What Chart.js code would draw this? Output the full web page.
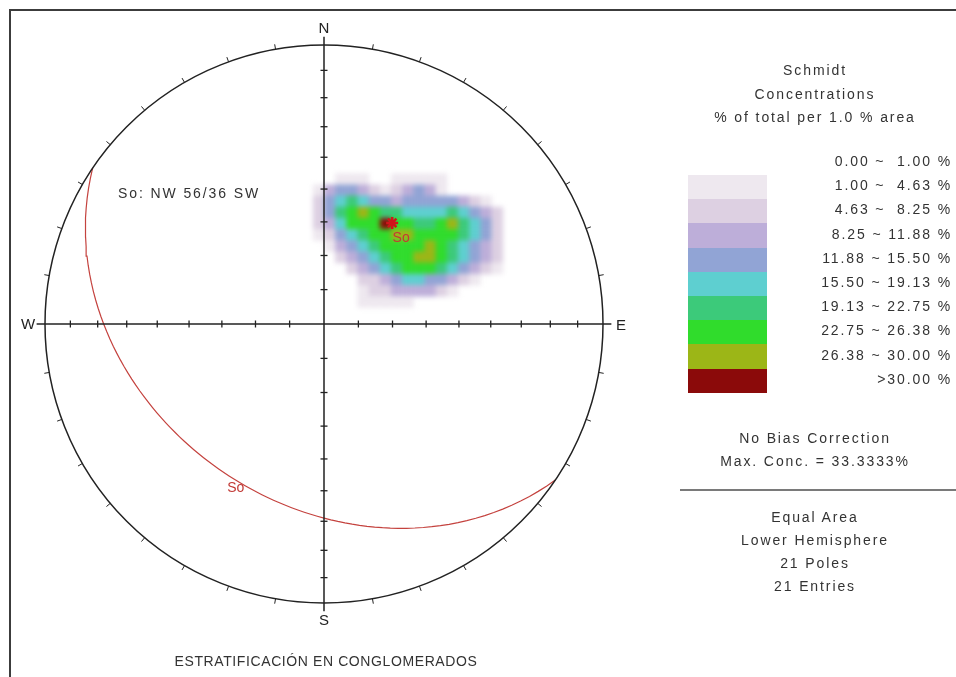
<!DOCTYPE html>
<html>
<head>
<meta charset="utf-8">
<script src="https://cdn.jsdelivr.net/npm/chart.js@4.4.1/dist/chart.umd.min.js"></script>
<style>
    body { margin: 0; background: #fff; overflow: hidden; }
    #wrap { position: relative; width: 956px; height: 677px; overflow: hidden;
            font-family: "Liberation Sans", Arial, sans-serif; color: #333; }
    #frame { position: absolute; left: 9px; top: 9px; width: 1000px; height: 1000px; border: 2px solid #3c3c3c; }
    #net { position: absolute; left: 0; top: 0; }
    .t { position: absolute; font-size: 14px; line-height: 16px; letter-spacing: 1.9px; white-space: pre; }
    .c { left: 680px; width: 270px; text-align: center; }
    .r { right: 4px; text-align: right; }
    .sw { position: absolute; left: 688px; width: 79px; }
    #sep { position: absolute; left: 680px; top: 489px; width: 276px; height: 2px; background: #7a7a7a; }
</style>
</head>
<body>
<div id="wrap">
    <div id="frame"></div>
    <canvas id="net" width="956" height="677"></canvas>
    <div id="sep"></div>
</div>
<script>
// Panel texts
const panelTitle = ['Schmidt', 'Concentrations', '% of total per 1.0 % area'];
const classLabels = ['0.00 ~  1.00 %', '1.00 ~  4.63 %', '4.63 ~  8.25 %', '8.25 ~ 11.88 %', '11.88 ~ 15.50 %',
    '15.50 ~ 19.13 %', '19.13 ~ 22.75 %', '22.75 ~ 26.38 %', '26.38 ~ 30.00 %', '>30.00 %'];
// first class (0 - 1 %) is left blank
const classColors = ['#ffffff', '#eee8ef', '#ddd0e2', '#bdaed9', '#91a4d5', '#5ecfd0', '#3cca7a', '#30dc2c', '#9cb617', '#8b0a0a'];
const statsTop = ['No Bias Correction', 'Max. Conc. = 33.3333%'];
const statsBottom = ['Equal Area', 'Lower Hemisphere', '21 Poles', '21 Entries'];
const planeText = 'So: NW 56/36 SW';
const chartTitle = 'ESTRATIFICACIÓN EN CONGLOMERADOS';

// Plane So (dip direction / dip, degrees)
const planeDipDir = 214;
const planeDip = 36;

// Dips marked along the N-S and W-E diameters
const axisTickDips = [80, 70, 60, 50, 40, 30, 20, 10];

// Density grid (equal-area coords, net radius = 1), one digit = class index
const gridX0 = -0.04;
const gridY0 = 0.58;
const gridStep = 0.04;
const densityRows = [
    '000000000000000000',
    '001110011111000000',
    '134432123431000000',
    '245654434444432100',
    '246787665555654320',
    '235777977667865420',
    '124567788777765420',
    '013456777787654320',
    '002345677887654320',
    '000234567776543210',
    '000022345544321000',
    '000012233332100000',
    '000011111000000000',
    '000000000000000000'
];

const rad = d => d * Math.PI / 180;
// Equal-area projection of a line (trend, plunge)
const project = (trend, plunge) => {
    const r = Math.SQRT2 * Math.sin(rad(90 - plunge) / 2);
    return { x: r * Math.sin(rad(trend)), y: r * Math.cos(rad(trend)) };
};

// Great circle of So: lines lying in the plane
const greatCircle = [];
for (let t = -90; t <= 90; t += 2) {
    const p = Math.atan(Math.tan(rad(planeDip)) * Math.cos(rad(t))) * 180 / Math.PI;
    greatCircle.push(project(planeDipDir + t, p));
}
const pole = project(planeDipDir - 180, 90 - planeDip);

const ewTicks = [];
const nsTicks = [];
axisTickDips.forEach(d => {
    const r = project(0, d).y;
    ewTicks.push({ x: r, y: 0 }, { x: -r, y: 0 });
    nsTicks.push({ x: 0, y: r }, { x: 0, y: -r });
});

// Side panel
const wrap = document.getElementById('wrap');
const addText = (txt, cls, y, extra) => {
    const d = document.createElement('div');
    d.className = 't ' + cls;
    d.style.top = (y - 8) + 'px';
    if (extra) Object.assign(d.style, extra);
    d.textContent = txt;
    wrap.appendChild(d);
};
panelTitle.forEach((s, i) => addText(s, 'c', 70 + i * 23.5));
classLabels.forEach((s, i) => addText(s, 'r', 161 + i * 24.2));
classColors.slice(1).forEach((col, i) => {
    const d = document.createElement('div');
    d.className = 'sw';
    d.style.top = (175 + i * 24.2) + 'px';
    d.style.height = '24.6px';
    d.style.background = col;
    wrap.appendChild(d);
});
statsTop.forEach((s, i) => addText(s, 'c', 438 + i * 23));
statsBottom.forEach((s, i) => addText(s, 'c', 517 + i * 23));
addText(planeText, '', 193, { left: '118px' });
addText(chartTitle, '', 661, { left: '60px', width: '532px', textAlign: 'center', letterSpacing: '0.6px' });

const netPlugin = {
    id: 'net',
    beforeDatasetsDraw(chart) {
        const xs = chart.scales.x, ys = chart.scales.y, ctx = chart.ctx;
        const off = document.createElement('canvas');
        off.width = chart.canvas.width;
        off.height = chart.canvas.height;
        const o = off.getContext('2d');
        densityRows.forEach((row, r) => {
            [...row].forEach((ch, c) => {
                const lvl = +ch;
                if (!lvl) return;
                const x0 = gridX0 + c * gridStep, y0 = gridY0 - r * gridStep;
                const px0 = xs.getPixelForValue(x0), px1 = xs.getPixelForValue(x0 + gridStep);
                const py0 = ys.getPixelForValue(y0), py1 = ys.getPixelForValue(y0 - gridStep);
                o.fillStyle = classColors[lvl];
                o.fillRect(px0, py0, px1 - px0 + 0.5, py1 - py0 + 0.5);
            });
        });
        ctx.save();
        ctx.filter = 'blur(2.5px)';
        ctx.drawImage(off, 0, 0);
        ctx.restore();
    },
    afterDatasetsDraw(chart) {
        const xs = chart.scales.x, ys = chart.scales.y, ctx = chart.ctx;
        const cx = xs.getPixelForValue(0), cy = ys.getPixelForValue(0);
        const R = xs.getPixelForValue(1) - cx;
        ctx.save();
        // primitive circle
        ctx.strokeStyle = '#222';
        ctx.lineWidth = 1.5;
        ctx.beginPath();
        ctx.arc(cx, cy, R, 0, Math.PI * 2);
        ctx.stroke();
        // 10 degree ticks
        ctx.lineWidth = 1;
        for (let az = 10; az < 360; az += 10) {
            if (az % 90 === 0) continue;
            const s = Math.sin(rad(az)), c = Math.cos(rad(az));
            ctx.beginPath();
            ctx.moveTo(cx + R * s, cy - R * c);
            ctx.lineTo(cx + (R + 5) * s, cy - (R + 5) * c);
            ctx.stroke();
        }
        // cardinal letters
        ctx.fillStyle = '#222';
        ctx.font = '15px "Liberation Sans", Arial, sans-serif';
        ctx.textAlign = 'center';
        ctx.textBaseline = 'middle';
        ctx.fillText('N', cx, cy - R - 16);
        ctx.fillText('S', cx, cy + R + 18);
        ctx.fillText('W', cx - R - 17, cy + 1);
        ctx.fillText('E', cx + R + 18, cy + 2);
        // So labels
        ctx.fillStyle = '#c23a36';
        ctx.font = '14px "Liberation Sans", Arial, sans-serif';
        const pp = { x: xs.getPixelForValue(pole.x), y: ys.getPixelForValue(pole.y) };
        ctx.fillText('So', pp.x + 9, pp.y + 15);
        const gp = greatCircle[42];
        ctx.fillText('So', xs.getPixelForValue(gp.x) - 4, ys.getPixelForValue(gp.y) + 6);
        ctx.restore();
    }
};

new Chart(document.getElementById('net'), {
    type: 'scatter',
    data: {
        datasets: [
            { label: 'W-E', data: [{ x: -1.03, y: 0 }, { x: 1.03, y: 0 }], showLine: true,
              borderColor: '#222', borderWidth: 1.5, pointRadius: 0, clip: false },
            { label: 'N-S', data: [{ x: 0, y: 1.03 }, { x: 0, y: -1.03 }], showLine: true,
              borderColor: '#222', borderWidth: 1.5, pointRadius: 0, clip: false },
            { label: 'W-E ticks', data: ewTicks, pointStyle: 'line', pointRotation: 90, pointRadius: 3.5,
              borderColor: '#222', borderWidth: 1.3, clip: false },
            { label: 'N-S ticks', data: nsTicks, pointStyle: 'line', pointRotation: 0, pointRadius: 3.5,
              borderColor: '#222', borderWidth: 1.3, clip: false },
            { label: 'So', data: greatCircle, showLine: true, borderColor: '#c4423e', borderWidth: 1.2,
              pointRadius: 0, tension: 0, clip: false },
            { label: 'Pole So', data: [pole], pointStyle: 'star', pointRadius: 6,
              borderColor: '#d0141a', backgroundColor: '#d0141a', borderWidth: 2.5 }
        ]
    },
    options: {
        responsive: false,
        animation: false,
        events: [],
        layout: { padding: { left: 45, right: 353, top: 45, bottom: 74 } },
        scales: {
            x: { type: 'linear', min: -1, max: 1, display: false },
            y: { type: 'linear', min: -1, max: 1, display: false }
        },
        plugins: { legend: { display: false }, tooltip: { enabled: false } }
    },
    plugins: [netPlugin]
});
</script>
</body>
</html>
